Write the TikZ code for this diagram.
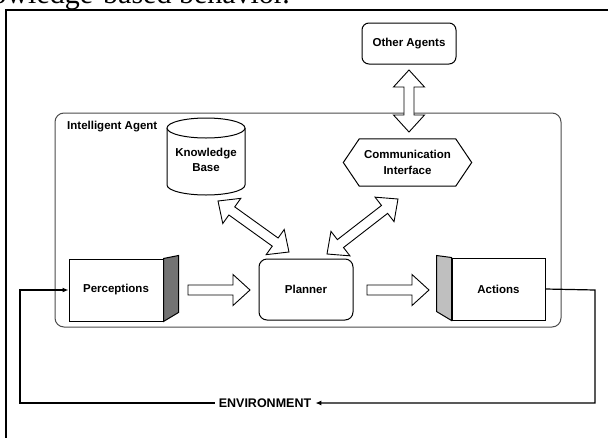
\documentclass[tikz,border=0pt]{standalone}
\usepackage{fontspec}
\setmainfont{Liberation Serif}
\setsansfont{Liberation Sans}
\usetikzlibrary{calc,arrows.meta}

% block arrows: drawn along the local x axis, length given as argument
\tikzset{
  barrow/.style={draw=black, fill=white, line width=0.9pt, line join=miter},
  pics/dblarrow/.style={code={
    \draw[barrow] (0,0) -- (17,15.5) -- (17,5) -- ({#1-17},5) -- ({#1-17},15.5)
      -- (#1,0) -- ({#1-17},-15.5) -- ({#1-17},-5) -- (17,-5) -- (17,-15.5) -- cycle;}},
  pics/sglarrow/.style={code={
    \draw[barrow] (0,5) -- ({#1-17},5) -- ({#1-17},15.5) -- (#1,0)
      -- ({#1-17},-15.5) -- ({#1-17},-5) -- (0,-5) -- cycle;}},
  lbl/.style={font=\sffamily\bfseries\fontsize{11.5}{15.5}\selectfont, align=center, inner sep=0pt},
  shapeline/.style={draw=black, line width=1pt},
  roundbox/.style={lbl, shapeline, rounded corners=8pt},
  cubefront/.style={lbl, shapeline, fill=white},
  conn/.style={draw=black, line width=1.2pt, -{Latex[length=6pt,width=5pt]}},
}
% \blkarrow{pic type}{from coordinate}{to coordinate}
\newcommand\blkarrow[3]{%
  \path let \p1=(#2), \p2=(#3), \n1={atan2(\y2-\y1,\x2-\x1)},
    \n2={veclen(\x2-\x1,\y2-\y1)} in pic[rotate=\n1] at (\p1) {#1=\n2};}

\begin{document}
\begin{tikzpicture}[x=1pt, y=-1pt]
  \useasboundingbox (0,0) rectangle (608,437);
  \fill[white] (0,0) rectangle (608,437);
  \clip (0,0) rectangle (608,437);

  % running text line above the frame
  \node[anchor=base east, inner sep=0pt, font=\fontsize{30}{34}\selectfont] (caption) at (290,3) {knowledge-based behavior.};

  % outer frame (environment)
  \draw[line width=1.2pt] (6,460) -- (6,10) -- (630,10);

  % agent container
  \draw[draw=black!70, line width=1pt, rounded corners=9pt] (55,113) rectangle (561,327);
  \node[lbl, anchor=west] (agentlbl) at (67,127) {Intelligent Agent};

  % other agents
  \node[roundbox, rounded corners=7pt, minimum width=94pt, minimum height=41pt] (other) at (409,43.5) {Other Agents};

  % knowledge base cylinder
  \draw[shapeline, fill=white] (167,128) -- (167,185)
    arc[start angle=180, end angle=0, x radius=39, y radius=10] -- (245,128);
  \draw[shapeline, fill=white] (206,128) ellipse[x radius=39, y radius=10];
  \node[lbl] (kb) at (206,160) {Knowledge\\Base};

  % communication interface hexagon
  \node[lbl, minimum width=96pt, minimum height=47pt] (comm) at (407.5,162.5) {Communication\\Interface};
  \draw[shapeline] (comm.north west) -- (comm.north east) -- ($(comm.east)+(16,0)$)
    -- (comm.south east) -- (comm.south west) -- ($(comm.west)+(-16,0)$) -- cycle;

  % planner
  \node[roundbox, minimum width=94pt, minimum height=61pt] (plan) at (306,289.5) {Planner};

  % perceptions block with shaded side
  \node[cubefront, minimum width=94pt, minimum height=62pt] (perc) at (116,290) {Perceptions};
  \filldraw[shapeline, fill=black!55] (perc.north east) -- ++(15,-3) -- ++(0,57) -- (perc.south east) -- cycle;

  % actions block with shaded side
  \node[cubefront, minimum width=93pt, minimum height=62pt] (act) at (498.5,289) {Actions};
  \filldraw[shapeline, fill=black!25] (act.north west) -- ++(-15,-2) -- ++(0,56) -- (act.south west) -- cycle;

  % block arrow end points
  \coordinate (oaA) at (409,70);   \coordinate (oaB) at (409,132);
  \coordinate (kbA) at (218,201);  \coordinate (kbB) at (289,252);
  \coordinate (ciA) at (398,199);  \coordinate (ciB) at (327,254);
  \coordinate (ppA) at (188,290);  \coordinate (ppB) at (250,290);
  \coordinate (paA) at (367,290);  \coordinate (paB) at (429,290);

  \blkarrow{dblarrow}{oaA}{oaB}
  \blkarrow{dblarrow}{kbA}{kbB}
  \blkarrow{dblarrow}{ciA}{ciB}
  \blkarrow{sglarrow}{ppA}{ppB}
  \blkarrow{sglarrow}{paA}{paB}

  % environment feedback loop
  \node[font=\sffamily\bfseries\fontsize{12.5}{15}\selectfont, inner xsep=4pt, inner ysep=2pt, fill=white] (env) at (265,403) {ENVIRONMENT};
  \coordinate (rtop) at (595,290);
  \coordinate (rbot) at (595,403);
  \coordinate (lbot) at (20,403);
  \coordinate (ltop) at (20,290);
  \draw[conn] (act.east) -- (rtop) -- (rbot) -- (env.east);
  \draw[conn] (env.west) -- (lbot) -- (ltop) -- (perc.west);
\end{tikzpicture}
\end{document}
